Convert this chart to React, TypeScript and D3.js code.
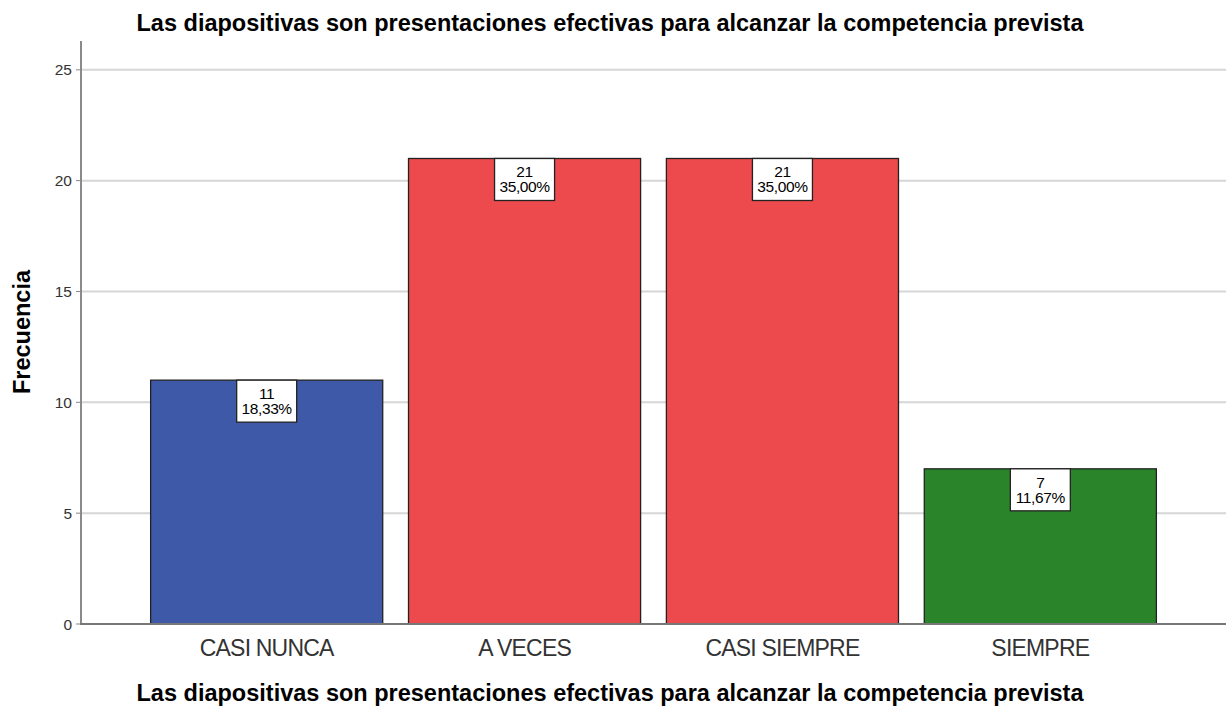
import React from "react";
import * as d3 from "d3";

const categories = ["CASI NUNCA", "A VECES", "CASI SIEMPRE", "SIEMPRE"];
const counts = [11, 21, 21, 7];
const percents = ["18,33%", "35,00%", "35,00%", "11,67%"];
const barColors = ["#3e59a8", "#ec4a4c", "#ec4a4c", "#2a852a"];
const yTicks = [0, 5, 10, 15, 20, 25];
const title = "Las diapositivas son presentaciones efectivas para alcanzar la competencia prevista";
const xTitle = "Las diapositivas son presentaciones efectivas para alcanzar la competencia prevista";
const yTitle = "Frecuencia";

const W = 1226;
const H = 706;
const left = 81;
const right = 1226;
const top = 41;
const bottom = 624;

export default function App() {
  const y = d3.scaleLinear().domain([0, 26.3]).range([bottom, top]);
  const x = d3
    .scaleBand<string>()
    .domain(categories)
    .range([left, right])
    .paddingInner(0.1)
    .paddingOuter(0.27);
  const font = "'Liberation Sans', Arial, sans-serif";
  return (
    <svg
      width={W}
      height={H}
      style={{ position: "absolute", left: 0, top: 0, background: "#fff" }}
      fontFamily={font}
    >
      <rect width={W} height={H} fill="#fff" />
      {yTicks.map((t) =>
        t === 0 ? null : (
          <line key={"g" + t} x1={left} x2={right} y1={y(t)} y2={y(t)} stroke="#d6d6d6" strokeWidth={2} />
        )
      )}
      {yTicks.map((t) => (
        <g key={"t" + t}>
          <line x1={left - 5} x2={left} y1={y(t)} y2={y(t)} stroke="#888" strokeWidth={1} />
          <text x={left - 9} y={y(t)} dy="0.36em" textAnchor="end" fontSize={15.5} fill="#333">
            {t}
          </text>
        </g>
      ))}
      {categories.map((c, i) => {
        const bx = x(c)!;
        const bw = x.bandwidth();
        const by = y(counts[i]);
        const cx = bx + bw / 2;
        return (
          <g key={c}>
            <rect x={bx} y={by} width={bw} height={bottom - by} fill={barColors[i]} stroke="#222" strokeWidth={1.3} />
            <rect x={cx - 30} y={by} width={60} height={42} fill="#fff" stroke="#222" strokeWidth={1.3} />
            <text x={cx} y={by + 19} textAnchor="middle" fontSize={15.5} letterSpacing={-0.4} fill="#000">
              {counts[i]}
            </text>
            <text x={cx} y={by + 34} textAnchor="middle" fontSize={15.5} letterSpacing={-0.4} fill="#000">
              {percents[i]}
            </text>
            <text x={cx} y={656} textAnchor="middle" fontSize={23} fill="#333" letterSpacing={-0.8}>
              {c}
            </text>
          </g>
        );
      })}
      <line x1={left} x2={left} y1={top} y2={bottom + 1} stroke="#8a8a8a" strokeWidth={2} />
      <line x1={left - 1} x2={right} y1={bottom} y2={bottom} stroke="#777" strokeWidth={2} />
      <text x={610} y={31} textAnchor="middle" fontSize={23.5} fontWeight="bold" fill="#000">
        {title}
      </text>
      <text x={610} y={701} textAnchor="middle" fontSize={23.5} fontWeight="bold" fill="#000">
        {xTitle}
      </text>
      <text
        transform={`translate(30,${332}) rotate(-90)`}
        textAnchor="middle"
        fontSize={23.5}
        fontWeight="bold"
        fill="#000"
      >
        {yTitle}
      </text>
    </svg>
  );
}
